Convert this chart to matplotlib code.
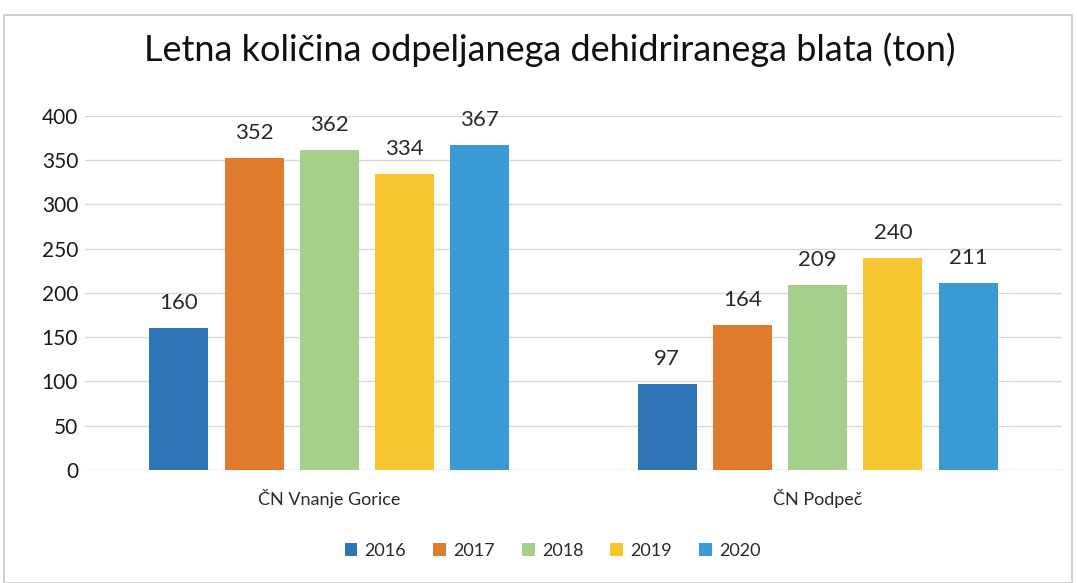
import numpy as np
import matplotlib.pyplot as plt
from matplotlib.patches import Rectangle

plt.rcParams['font.family'] = ['Lato', 'DejaVu Sans']

categories = ['ČN Vnanje Gorice', 'ČN Podpeč']
years = ['2016', '2017', '2018', '2019', '2020']
values = {
    '2016': [160, 97],
    '2017': [352, 164],
    '2018': [362, 209],
    '2019': [334, 240],
    '2020': [367, 211],
}
colors = ['#2E75B6', '#E07B2E', '#A5CF8A', '#F6C530', '#3A9AD6']

fig = plt.figure(figsize=(10.77, 5.83), dpi=100)
# scanned frame
fig.patches.append(Rectangle((0.004, 0.0), 0.991, 0.975, transform=fig.transFigure,
                             fill=False, edgecolor='#D0D0D0', linewidth=1.5))
ax = fig.add_axes([0.079, 0.194, 0.907, 0.607])

x = np.arange(len(categories))
w = 0.121
step = 0.154
for i, yr in enumerate(years):
    bars = ax.bar(x + (i - 2) * step, values[yr], w, color=colors[i], label=yr, zorder=3)
    for b, v in zip(bars, values[yr]):
        ax.text(b.get_x() + b.get_width() / 2, v + 17, str(v), ha='center', va='bottom',
                fontsize=16, color='#2A2A2A')

ax.set_xlim(-0.5, 1.5)
ax.set_ylim(0, 400)
ax.set_yticks(range(0, 401, 50))
ax.yaxis.grid(True, color='#D9D9D9', linewidth=1, zorder=0)
for s in ax.spines.values():
    s.set_visible(False)
ax.axhline(0, color='#D9D9D9', linewidth=1, zorder=1)
ax.tick_params(axis='y', length=0, labelsize=15, labelcolor='#1A1A1A', pad=5)
ax.tick_params(axis='x', length=0, labelsize=13, labelcolor='#2A2A2A', pad=14)
ax.set_xticks(x)
ax.set_xticklabels(categories)

fig.text(0.51, 0.915, 'Letna količina odpeljanega dehidriranega blata (ton)',
         ha='center', va='center', fontsize=26, color='#111111')

fig.legend(loc='center', bbox_to_anchor=(0.513, 0.055), ncol=5, frameon=False,
           fontsize=13, handlelength=0.7, handleheight=0.7, handletextpad=0.4,
           columnspacing=1.5, labelcolor='#2A2A2A')

fig.savefig('out.png', dpi=100)
